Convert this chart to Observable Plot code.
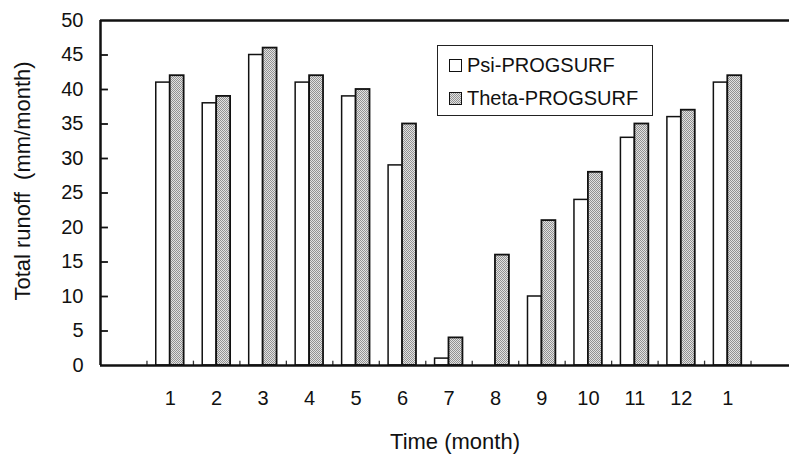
<!DOCTYPE html>
<html>
<head>
<meta charset="utf-8">
<script src="https://cdn.jsdelivr.net/npm/d3@7"></script>
<script src="https://cdn.jsdelivr.net/npm/@observablehq/plot@0.6"></script>
<style>
  html, body { margin: 0; padding: 0; background: #fff; }
  #wrap { position: relative; width: 789px; height: 458px; font-family: "Liberation Sans", Arial, sans-serif; }
  svg text { white-space: pre; }
  #legend { position: absolute; left: 437px; top: 45px; width: 216px; height: 71px; box-sizing: border-box; border: 1.5px solid #222; background: #fff; }
  .item { position: absolute; left: 11px; display: flex; align-items: center; font-size: 20px; color: #111; }
  .sw { width: 13px; height: 13px; box-sizing: border-box; border: 1.5px solid #111; margin-right: 5px; background: #fff; }
  .sw.theta { background: repeating-conic-gradient(#929292 0 25%, #e2e2e2 0 50%) 0 0 / 2px 2px; }
</style>
</head>
<body>
<div id="wrap"></div>
<script>
const months = ["1","2","3","4","5","6","7","8","9","10","11","12","1"];
const psi    = [41, 38, 45, 41, 39, 29, 1, 0, 10, 24, 33, 36, 41];
const theta  = [42, 39, 46, 42, 40, 35, 4, 16, 21, 28, 35, 37, 42];
const yTicks = [0, 5, 10, 15, 20, 25, 30, 35, 40, 45, 50];
const seriesNames = ["Psi-PROGSURF", "Theta-PROGSURF"];

const rows = months.map((m, i) => ({pos: i + 1, label: m, psi: psi[i], theta: theta[i]}));
const w = 0.3;                    // half-group width (band units)
const edges = d3.range(1, 15);    // band boundaries
const innerY = yTicks.filter(v => v > 0 && v < 50);

const chart = Plot.plot({
  width: 789,
  height: 458,
  marginLeft: 100,
  marginRight: -8,
  marginTop: 20,
  marginBottom: 93,
  style: {fontFamily: "Liberation Sans, Arial, sans-serif", fontSize: "20px", color: "#111", background: "#fff"},
  x: {domain: [0, 15]},
  y: {domain: [0, 50]},
  marks: [
    Plot.rectY(rows, {x1: d => d.pos + 0.5 - w, x2: d => d.pos + 0.5, y: "psi", fill: "#fff", stroke: "#111", strokeWidth: 1.5}),
    Plot.rectY(rows, {x1: d => d.pos + 0.5, x2: d => d.pos + 0.5 + w, y: "theta", fill: "url(#stip)", stroke: "#111", strokeWidth: 1.8}),
    Plot.link(edges, {x1: d => d, x2: d => d, y1: 0, y2: 0.7, stroke: "#333", strokeWidth: 1.3}),
    Plot.link(innerY, {x1: 0, x2: 0.16, y1: d => d, y2: d => d, stroke: "#111", strokeWidth: 1.8}),
    Plot.ruleX([0], {stroke: "#111", strokeWidth: 2.5}),
    Plot.ruleY([0], {stroke: "#111", strokeWidth: 2.5}),
    Plot.ruleY([50], {stroke: "#111", strokeWidth: 2.5}),
    Plot.axisY(yTicks, {tickSize: 0, tickPadding: 17, fontSize: 20, label: null}),
    Plot.axisX(rows.map(d => d.pos + 0.5), {tickSize: 0, tickPadding: 25, fontSize: 20, label: null,
      tickFormat: v => months[Math.round(v - 1.5)]}),
    Plot.text(["Total runoff  (mm/month)"], {frameAnchor: "left", textAnchor: "middle", lineAnchor: "middle", rotate: -90, dx: -78, dy: -12, fontSize: 22, fill: "#111"}),
    Plot.text(["Time (month)"], {frameAnchor: "bottom", textAnchor: "middle", lineAnchor: "middle", dx: 6, dy: 76, fontSize: 22, fill: "#111"})
  ]
});

// stipple pattern for Theta bars
const ns = "http://www.w3.org/2000/svg";
const defs = document.createElementNS(ns, "defs");
defs.innerHTML = `<pattern id="stip" width="2" height="2" patternUnits="userSpaceOnUse">
  <rect width="2" height="2" fill="#e2e2e2"/>
  <rect x="0" y="0" width="1" height="1" fill="#929292"/>
  <rect x="1" y="1" width="1" height="1" fill="#929292"/>
</pattern>`;
chart.insertBefore(defs, chart.firstChild);

const wrap = document.getElementById("wrap");
wrap.appendChild(chart);

const legend = document.createElement("div");
legend.id = "legend";
legend.innerHTML = `
  <div class="item" style="top:8px"><div class="sw"></div><span>${seriesNames[0]}</span></div>
  <div class="item" style="top:41px"><div class="sw theta"></div><span>${seriesNames[1]}</span></div>`;
wrap.appendChild(legend);
</script>
</body>
</html>
